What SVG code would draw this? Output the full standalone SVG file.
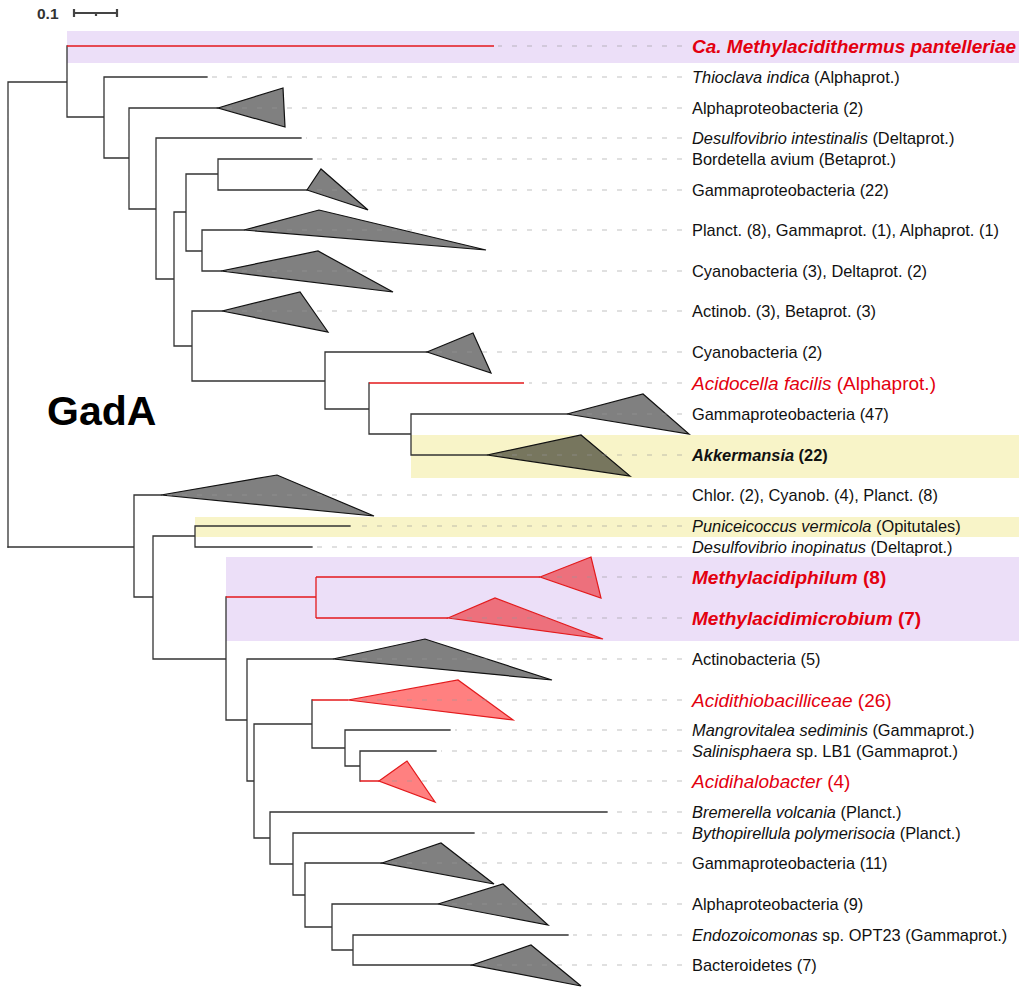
<svg xmlns="http://www.w3.org/2000/svg" width="1021" height="987" viewBox="0 0 1021 987">
<style>
.br{fill:none;stroke:#333;stroke-width:1.3;stroke-linecap:square}
.rb{fill:none;stroke:#e31a1c;stroke-width:1.3}
.tri{fill:#808080;stroke:#111;stroke-width:1.2;stroke-linejoin:miter}
.tri-akk{fill:#77765e;stroke:#111;stroke-width:1.2}
.tri-r{fill:#ff8080;stroke:#e31a1c;stroke-width:1.2}
.tri-rp{fill:#ed707c;stroke:#e31a1c;stroke-width:1.2}
.dash{stroke:#999;stroke-opacity:0.4;stroke-width:1.3;stroke-dasharray:5 10}
.lb{font-family:"Liberation Sans",Arial,sans-serif;font-size:16.4px;fill:#111}
.lr{font-family:"Liberation Sans",Arial,sans-serif;font-size:19px;fill:#e3000f}
.bold{font-weight:bold}
.it{font-style:italic}
.band-p{fill:#ecdff8}
.band-y{fill:#f8f4c8}
</style>
<rect width="1021" height="987" fill="#fff"/>
<g id="highlights">
<rect class="band-p" x="67" y="31" width="952" height="32"/>
<rect class="band-y" x="411" y="435" width="608" height="43"/>
<rect class="band-y" x="195" y="517" width="824" height="20"/>
<rect class="band-p" x="226" y="557" width="793" height="84"/>
</g>
<g id="scale">
<text x="37" y="19" font-family="Liberation Sans,Arial,sans-serif" font-size="15.5" font-weight="bold" fill="#333">0.1</text>
<path d="M74,13H117M74,9V17M117,9V17M96,13V16" fill="none" stroke="#444" stroke-width="2.2"/>
</g>
<text id="title" x="47" y="425" font-family="Liberation Sans,Arial,sans-serif" font-size="41" font-weight="bold" fill="#000">GadA</text>
<g id="connectors">
<path class="br" d="M8,82V547M8,82H67M67,46V117M67,117H104M104,77V158M104,77H207M104,158H129M129,108V209M129,108H218M129,209H156M156,138V279M156,138H301M156,279H174M174,212V346M174,212H186M186,174V251M186,174H218M218,159V190M218,159H312M218,190H307M186,251H202M202,230V271M202,230H244M202,271H221M174,346H192M192,311V381M192,311H222M192,381H325M325,352V409M325,352H427M325,409H369M369,383V434M369,434H411M411,414V455M411,414H567M411,455H487"/>
<path class="br" d="M8,547H134M134,495V597M134,495H161M134,597H153M153,536V659M153,536H195M195,526V547M195,526H350M195,547H312M153,659H226M226,597V720M226,720H247M247,659V781M247,659H333M247,781H254M254,724V838M254,724H312M312,700V748M312,748H345M345,730V766M345,730H450M345,766H360M360,751V781M360,751H436M254,838H270M270,812V864M270,812H607M270,864H293M293,833V895M293,833H474M293,895H305M305,863V927M305,863H382M305,927H332M332,904V950M332,904H438M332,950H353M353,935V965M353,935H568M353,965H472"/>
<path class="rb" d="M67,46H494M369,383H524M226,597H316M316,577V618M316,577H540M316,618H448M312,700H348M360,781H379"/>
</g>
<g id="nodes">
<g id="n-methylacidithermus"><line class="dash" x1="682" y1="46" x2="498" y2="46"/><text class="lr bold it" x="692" y="53">Ca. Methylacidithermus pantelleriae</text></g>
<g id="n-thioclava"><line class="dash" x1="682" y1="77" x2="212" y2="77"/><text class="lb" x="692" y="83"><tspan class="it">Thioclava indica</tspan> (Alphaprot.)</text></g>
<g id="n-alpha2"><polygon class="tri" points="218,108 283,88 285,127"/><line class="dash" x1="682" y1="108" x2="222" y2="108"/><text class="lb" x="692" y="114">Alphaproteobacteria (2)</text></g>
<g id="n-desulfo-int"><line class="dash" x1="682" y1="138" x2="306" y2="138"/><text class="lb" x="692" y="144"><tspan class="it">Desulfovibrio intestinalis</tspan> (Deltaprot.)</text></g>
<g id="n-bordetella"><line class="dash" x1="682" y1="159" x2="317" y2="159"/><text class="lb" x="692" y="165">Bordetella avium (Betaprot.)</text></g>
<g id="n-gamma22"><polygon class="tri" points="307,190 321,169 368,210"/><line class="dash" x1="682" y1="190" x2="311" y2="190"/><text class="lb" x="692" y="196">Gammaproteobacteria (22)</text></g>
<g id="n-planct"><polygon class="tri" points="244,230 319,210 486,250"/><line class="dash" x1="682" y1="230" x2="248" y2="230"/><text class="lb" x="692" y="236">Planct. (8), Gammaprot. (1), Alphaprot. (1)</text></g>
<g id="n-cyano3"><polygon class="tri" points="221,271 318,251 393,292"/><line class="dash" x1="682" y1="271" x2="225" y2="271"/><text class="lb" x="692" y="277">Cyanobacteria (3), Deltaprot. (2)</text></g>
<g id="n-actinob3"><polygon class="tri" points="222,311 300,292 328,332"/><line class="dash" x1="682" y1="311" x2="226" y2="311"/><text class="lb" x="692" y="317">Actinob. (3), Betaprot. (3)</text></g>
<g id="n-cyano2"><polygon class="tri" points="427,352 473,333 491,373"/><line class="dash" x1="682" y1="352" x2="431" y2="352"/><text class="lb" x="692" y="358">Cyanobacteria (2)</text></g>
<g id="n-acidocella"><line class="dash" x1="682" y1="383" x2="529" y2="383"/><text class="lr" x="692" y="390"><tspan class="it">Acidocella facilis</tspan> (Alphaprot.)</text></g>
<g id="n-gamma47"><polygon class="tri" points="567,414 643,394 689,434"/><line class="dash" x1="682" y1="414" x2="571" y2="414"/><text class="lb" x="692" y="420">Gammaproteobacteria (47)</text></g>
<g id="n-akkermansia"><polygon class="tri-akk" points="487,455 581,435 630,476"/><line class="dash" x1="682" y1="455" x2="491" y2="455"/><text class="lb bold" x="692" y="461"><tspan class="it">Akkermansia</tspan> (22)</text></g>
<g id="n-chlor"><polygon class="tri" points="161,495 277,475 374,516"/><line class="dash" x1="682" y1="495" x2="165" y2="495"/><text class="lb" x="692" y="501">Chlor. (2), Cyanob. (4), Planct. (8)</text></g>
<g id="n-puniceicoccus"><line class="dash" x1="682" y1="526" x2="355" y2="526"/><text class="lb" x="692" y="532"><tspan class="it">Puniceicoccus vermicola</tspan> (Opitutales)</text></g>
<g id="n-desulfo-inop"><line class="dash" x1="682" y1="547" x2="317" y2="547"/><text class="lb" x="692" y="553"><tspan class="it">Desulfovibrio inopinatus</tspan> (Deltaprot.)</text></g>
<g id="n-methylacidiphilum"><polygon class="tri-rp" points="540,577 591,557 601,598"/><line class="dash" x1="682" y1="577" x2="544" y2="577"/><text class="lr bold" x="692" y="584"><tspan class="it">Methylacidiphilum</tspan> (8)</text></g>
<g id="n-methylacidimicrobium"><polygon class="tri-rp" points="448,618 495,598 603,639"/><line class="dash" x1="682" y1="618" x2="452" y2="618"/><text class="lr bold" x="692" y="625"><tspan class="it">Methylacidimicrobium</tspan> (7)</text></g>
<g id="n-actino5"><polygon class="tri" points="333,659 425,639 552,680"/><line class="dash" x1="682" y1="659" x2="337" y2="659"/><text class="lb" x="692" y="665">Actinobacteria (5)</text></g>
<g id="n-acidithio"><polygon class="tri-r" points="348,700 458,680 513,720"/><line class="dash" x1="682" y1="700" x2="352" y2="700"/><text class="lr" x="692" y="707"><tspan class="it">Acidithiobacilliceae</tspan> (26)</text></g>
<g id="n-mangrovitalea"><line class="dash" x1="682" y1="730" x2="455" y2="730"/><text class="lb" x="692" y="736"><tspan class="it">Mangrovitalea sediminis</tspan> (Gammaprot.)</text></g>
<g id="n-salinisphaera"><line class="dash" x1="682" y1="751" x2="441" y2="751"/><text class="lb" x="692" y="757"><tspan class="it">Salinisphaera</tspan> sp. LB1 (Gammaprot.)</text></g>
<g id="n-acidihalobacter"><polygon class="tri-r" points="379,781 407,761 435,802"/><line class="dash" x1="682" y1="781" x2="383" y2="781"/><text class="lr" x="692" y="788"><tspan class="it">Acidihalobacter</tspan> (4)</text></g>
<g id="n-bremerella"><line class="dash" x1="682" y1="812" x2="612" y2="812"/><text class="lb" x="692" y="818"><tspan class="it">Bremerella volcania</tspan> (Planct.)</text></g>
<g id="n-bythopirellula"><line class="dash" x1="682" y1="833" x2="479" y2="833"/><text class="lb" x="692" y="839"><tspan class="it">Bythopirellula polymerisocia</tspan> (Planct.)</text></g>
<g id="n-gamma11"><polygon class="tri" points="382,863 441,843 494,884"/><line class="dash" x1="682" y1="863" x2="386" y2="863"/><text class="lb" x="692" y="869">Gammaproteobacteria (11)</text></g>
<g id="n-alpha9"><polygon class="tri" points="438,904 503,884 548,925"/><line class="dash" x1="682" y1="904" x2="442" y2="904"/><text class="lb" x="692" y="910">Alphaproteobacteria (9)</text></g>
<g id="n-endozoicomonas"><line class="dash" x1="682" y1="935" x2="573" y2="935"/><text class="lb" x="692" y="941"><tspan class="it">Endozoicomonas</tspan> sp. OPT23 (Gammaprot.)</text></g>
<g id="n-bacteroidetes"><polygon class="tri" points="472,965 531,945 581,986"/><line class="dash" x1="682" y1="965" x2="476" y2="965"/><text class="lb" x="692" y="971">Bacteroidetes (7)</text></g>
</g>
</svg>
